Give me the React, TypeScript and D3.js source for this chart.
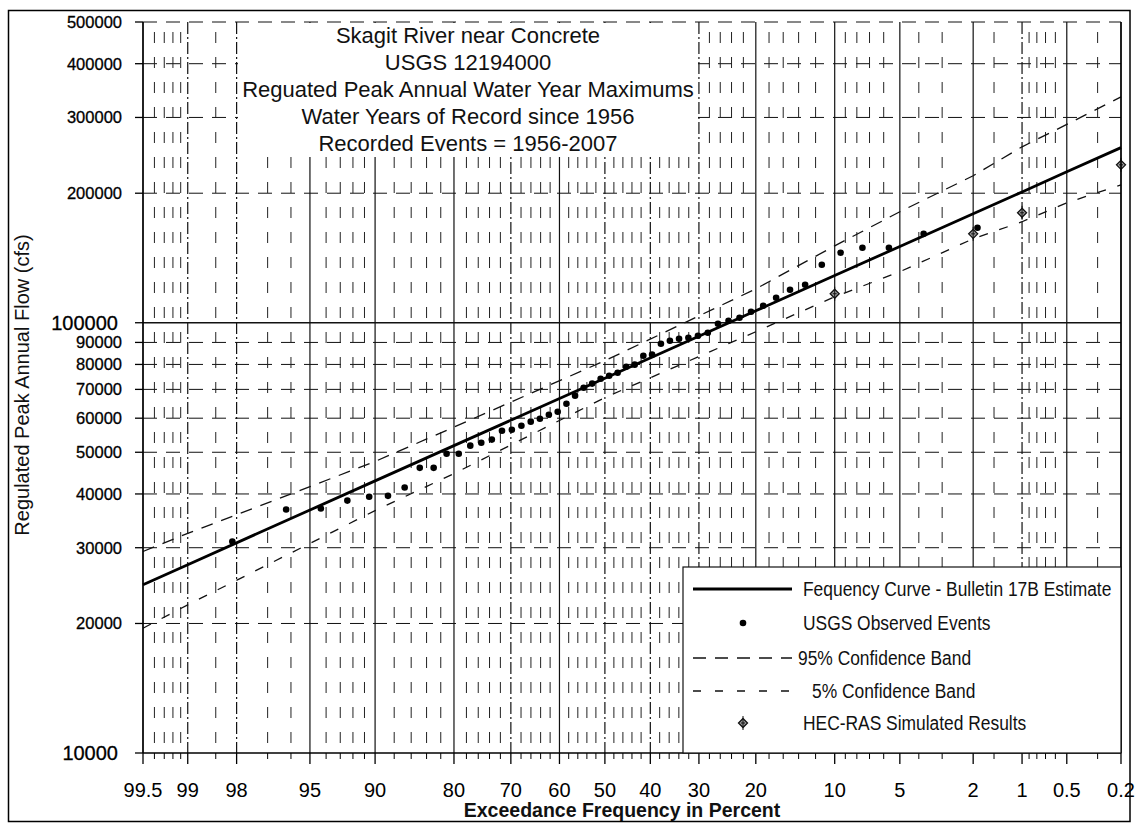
import React from "react";
import * as d3 from "d3";

// ---- Data -----------------------------------------------------------------
// Ranked regulated annual peaks (cfs), largest first, water years 1956-2007
const OBSERVED_PEAKS = [
  166300, 160900, 149400, 149400, 145400, 136400, 122500, 119300, 114300, 109500,
  106100, 102700, 101100, 99500, 94800, 93300, 92300, 91800, 90800, 89400,
  84300, 83800, 79900, 79000, 76500, 75300, 74100, 72200, 70600, 67700,
  64800, 62100, 61100, 59800, 58900, 57600, 56400, 56100, 53500, 52600,
  51800, 49600, 49600, 46000, 46000, 41400, 39600, 39400, 38600, 37000,
  36800, 31000,
];

// Bulletin 17B frequency curve and confidence limits, by exceedance percent
const CURVE_PCT = [99.5, 99, 95, 90, 80, 50, 20, 10, 5, 2, 1, 0.5, 0.2];
const CURVE_FLOW = [24600, 27400, 36700, 42900, 51800, 74300, 106600, 128800, 150400, 179200, 201400, 224300, 255300];
const UPPER_95 = [29400, 32400, 41600, 47600, 57200, 81600, 119900, 150900, 181100, 219600, 256400, 289000, 335000];
const LOWER_5 = [19500, 22100, 30700, 36600, 44600, 67000, 95300, 114900, 131400, 156700, 171700, 190000, 209200];

// HEC-RAS simulated peaks
const HECRAS_PCT = [10, 2, 1, 0.2];
const HECRAS_FLOW = [116800, 160900, 180100, 232800];

// Axis ticks
const X_MAJOR = [99.5, 99, 98, 95, 90, 80, 70, 60, 50, 40, 30, 20, 10, 5, 2, 1, 0.5, 0.2];
const X_MAJOR_DASHED = [99, 98, 70, 50, 40, 30, 1];
const X_MINOR = [
  99.4, 99.3, 99.2, 99.1, 98.5, 97, 96, 94, 93, 92, 91, 88, 86, 84, 82, 78, 76, 74, 72,
  68, 66, 64, 62, 58, 56, 54, 52, 48, 46, 44, 42, 38, 36, 34, 32, 28, 26, 24, 22,
  18, 16, 14, 12, 9, 8, 7, 6, 4, 3, 1.5, 0.9, 0.8, 0.7, 0.6, 0.3,
];
const Y_TICKS = [10000, 20000, 30000, 40000, 50000, 60000, 70000, 80000, 90000, 100000, 200000, 300000, 400000, 500000];
const Y_BIG_LABELS = [10000, 100000];

const TITLE_LINES = [
  "Skagit River near Concrete",
  "USGS 12194000",
  "Reguated Peak Annual Water Year Maximums",
  "Water Years of Record since 1956",
  "Recorded Events = 1956-2007",
];

const LEGEND_LABELS = [
  "Fequency Curve - Bulletin 17B Estimate",
  "USGS Observed Events",
  "95% Confidence Band",
  "5% Confidence Band",
  "HEC-RAS Simulated Results",
];

// ---- Helpers --------------------------------------------------------------
// Inverse standard normal CDF (Acklam's rational approximation)
function probit(p: number): number {
  const a = [-39.69683028665376, 220.9460984245205, -275.9285104469687, 138.357751867269, -30.66479806614716, 2.506628277459239];
  const b = [-54.47609879822406, 161.5858368580409, -155.6989798598866, 66.80131188771972, -13.28068155288572];
  const c = [-0.007784894002430293, -0.3223964580411365, -2.400758277161838, -2.549732539343734, 4.374664141464968, 2.938163982698783];
  const d = [0.007784695709041462, 0.3224671290700398, 2.445134137142996, 3.754408661907416];
  const pl = 0.02425;
  if (p < pl) {
    const q = Math.sqrt(-2 * Math.log(p));
    return (((((c[0] * q + c[1]) * q + c[2]) * q + c[3]) * q + c[4]) * q + c[5]) / ((((d[0] * q + d[1]) * q + d[2]) * q + d[3]) * q + 1);
  }
  if (p <= 1 - pl) {
    const q = p - 0.5;
    const r = q * q;
    return ((((((a[0] * r + a[1]) * r + a[2]) * r + a[3]) * r + a[4]) * r + a[5]) * q) / (((((b[0] * r + b[1]) * r + b[2]) * r + b[3]) * r + b[4]) * r + 1);
  }
  const q = Math.sqrt(-2 * Math.log(1 - p));
  return -(((((c[0] * q + c[1]) * q + c[2]) * q + c[3]) * q + c[4]) * q + c[5]) / ((((d[0] * q + d[1]) * q + d[2]) * q + d[3]) * q + 1);
}
// exceedance percent -> standard normal variate
const zOf = (pct: number) => probit(1 - pct / 100);

const W = 1135;
const H = 823;
const PLOT = { left: 143, right: 1121, top: 22, bottom: 753 };
const FONT = "'Liberation Sans', Arial, Helvetica, sans-serif";

export default function App() {
  const x = d3.scaleLinear().domain([zOf(99.5), zOf(0.2)]).range([PLOT.left, PLOT.right]);
  const px = (pct: number) => x(zOf(pct));
  const y = d3.scaleLog().domain([10000, 500000]).range([PLOT.bottom, PLOT.top]);

  const line = d3
    .line<[number, number]>()
    .x((d) => px(d[0]))
    .y((d) => y(d[1]));

  const curve = line(CURVE_PCT.map((p, i) => [p, CURVE_FLOW[i]] as [number, number])) || "";
  const upper = line(CURVE_PCT.map((p, i) => [p, UPPER_95[i]] as [number, number])) || "";
  const lower = line(CURVE_PCT.map((p, i) => [p, LOWER_5[i]] as [number, number])) || "";

  const n = OBSERVED_PEAKS.length;
  // Weibull plotting positions m/(n+1)
  const observed = OBSERVED_PEAKS.map((q, i) => ({ pct: (100 * (i + 1)) / (n + 1), q }));

  const diamond = (cx: number, cy: number, key: string | number, s = 4.5) => (
    <g key={key}>
      <path
        d={`M${cx},${cy - s} L${cx + s},${cy} L${cx},${cy + s} L${cx - s},${cy} Z`}
        fill="#9a9a9a"
        stroke="#111"
        strokeWidth={1.3}
      />
      <line x1={cx} x2={cx} y1={cy - s - 2.5} y2={cy + s + 2.5} stroke="#111" strokeWidth={1} />
      <line x1={cx - 2} x2={cx + 2} y1={cy} y2={cy} stroke="#111" strokeWidth={1} />
    </g>
  );

  const legendRows = [589, 623, 658, 691, 723];
  const legendTextX = [803, 803, 798, 812, 803];

  return (
    <div style={{ position: "absolute", left: 0, top: 0 }}>
      <svg width={W} height={H} style={{ display: "block", background: "#fff" }} fontFamily={FONT}>
        <rect x={0} y={0} width={W} height={H} fill="#fff" />

        {/* horizontal grid */}
        {Y_TICKS.filter((v) => v !== 10000).map((v) => (
          <line
            key={`h${v}`}
            x1={PLOT.left}
            x2={PLOT.right}
            y1={y(v)}
            y2={y(v)}
            stroke="#111"
            strokeWidth={v === 100000 ? 1.3 : 1}
            strokeDasharray={v === 100000 ? undefined : "14 9"}
          />
        ))}

        {/* minor vertical grid */}
        {X_MINOR.map((p) => (
          <line
            key={`vm${p}`}
            x1={px(p)}
            x2={px(p)}
            y1={PLOT.top}
            y2={PLOT.bottom}
            stroke="#222"
            strokeWidth={1}
            strokeDasharray="11 14"
            strokeDashoffset={15}
          />
        ))}

        {/* major vertical grid */}
        {X_MAJOR.map((p) => (
          <line
            key={`vM${p}`}
            x1={px(p)}
            x2={px(p)}
            y1={PLOT.top}
            y2={PLOT.bottom}
            stroke="#111"
            strokeWidth={1.2}
            strokeDasharray={X_MAJOR_DASHED.includes(p) ? "12 3 2 3" : undefined}
          />
        ))}

        {/* title block */}
        <rect x={238} y={23} width={460} height={134} fill="#fff" />
        {TITLE_LINES.map((t, i) => (
          <text key={t} x={468} y={43 + i * 27} textAnchor="middle" fontSize={22} fill="#111">
            {t}
          </text>
        ))}

        {/* confidence bands */}
        <path d={upper} fill="none" stroke="#111" strokeWidth={1.3} strokeDasharray="12 9" />
        <path d={lower} fill="none" stroke="#111" strokeWidth={1.3} strokeDasharray="9 12" />

        {/* frequency curve */}
        <path d={curve} fill="none" stroke="#000" strokeWidth={2.8} />

        {/* observed events */}
        {observed.map((d, i) => (
          <circle key={`o${i}`} cx={px(d.pct)} cy={y(d.q)} r={3.3} fill="#000" />
        ))}

        {/* HEC-RAS results */}
        {HECRAS_PCT.map((p, i) => diamond(px(p), y(HECRAS_FLOW[i]), `d${i}`))}

        {/* axes */}
        <line x1={PLOT.left} x2={PLOT.right} y1={PLOT.bottom} y2={PLOT.bottom} stroke="#000" strokeWidth={1.4} />
        <line x1={PLOT.left} x2={PLOT.left} y1={PLOT.top} y2={PLOT.bottom} stroke="#000" strokeWidth={1.4} />
        <line x1={PLOT.right} x2={PLOT.right} y1={PLOT.top} y2={PLOT.bottom} stroke="#000" strokeWidth={1.4} />

        {X_MAJOR.map((p) => (
          <line key={`tM${p}`} x1={px(p)} x2={px(p)} y1={PLOT.bottom} y2={PLOT.bottom + 11} stroke="#000" strokeWidth={1.3} />
        ))}
        {X_MINOR.map((p) => (
          <line key={`tm${p}`} x1={px(p)} x2={px(p)} y1={PLOT.bottom} y2={PLOT.bottom + 6} stroke="#000" strokeWidth={1} />
        ))}
        {X_MAJOR.map((p) => (
          <text key={`xl${p}`} x={px(p)} y={797} textAnchor="middle" fontSize={20} fill="#000">
            {p}
          </text>
        ))}

        {Y_TICKS.map((v) => (
          <line key={`yt${v}`} x1={PLOT.left - 8} x2={PLOT.left} y1={y(v)} y2={y(v)} stroke="#000" strokeWidth={1.3} />
        ))}
        {Y_TICKS.map((v) => {
          const big = Y_BIG_LABELS.includes(v);
          return (
            <text
              key={`yl${v}`}
              x={big ? 118 : 122}
              y={y(v) + (big ? 7 : 6)}
              textAnchor="end"
              fontSize={big ? 20 : 16.5}
              fill="#000"
              stroke="#000"
              strokeWidth={0.3}
            >
              {v}
            </text>
          );
        })}

        {/* axis titles */}
        <text x={622} y={817} textAnchor="middle" fontSize={19.5} fontWeight="bold" fill="#111">
          Exceedance Frequency in Percent
        </text>
        <text transform="translate(29,385) rotate(-90)" textAnchor="middle" fontSize={20} fill="#111">
          Regulated Peak Annual Flow (cfs)
        </text>

        {/* legend */}
        <rect x={683} y={567} width={PLOT.right - 683} height={PLOT.bottom - 567} fill="#fff" stroke="#111" strokeWidth={1.2} />
        <line x1={693} x2={792} y1={legendRows[0]} y2={legendRows[0]} stroke="#000" strokeWidth={2.8} />
        <circle cx={743} cy={legendRows[1]} r={3.3} fill="#000" />
        <line x1={693} x2={792} y1={legendRows[2]} y2={legendRows[2]} stroke="#111" strokeWidth={1.3} strokeDasharray="13 9" />
        <line x1={693} x2={792} y1={legendRows[3]} y2={legendRows[3]} stroke="#111" strokeWidth={1.3} strokeDasharray="8 14" />
        {diamond(743, legendRows[4], "ld")}
        {LEGEND_LABELS.map((t, i) => (
          <text
            key={t}
            transform={`translate(${legendTextX[i]},${legendRows[i] + 7}) scale(0.87,1)`}
            fontSize={20}
            fill="#111"
          >
            {t}
          </text>
        ))}

        {/* outer frame */}
        <rect x={8.5} y={10.5} width={1121.5} height={811} fill="none" stroke="#000" strokeWidth={1.5} />
      </svg>
    </div>
  );
}
